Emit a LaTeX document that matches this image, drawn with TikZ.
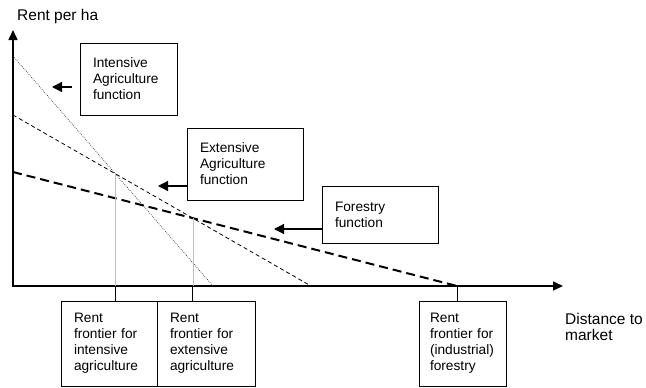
\documentclass[tikz,border=0pt]{standalone}
\usepackage{fontspec}
\setmainfont{Liberation Sans}
\usetikzlibrary{positioning,arrows.meta}

\begin{document}
\begin{tikzpicture}[x=1pt, y=-1pt,
    lbl/.style = {draw, line width=0.8pt, align=left, inner xsep=13pt, inner ysep=0pt, outer sep=0pt, font=\fontsize{13.7}{15.9}\selectfont},
    axlabel/.style = {anchor=west, inner sep=0pt, align=left, font=\fontsize{15.5}{16.5}\selectfont},
    pointer/.style = {line width=1.2pt, -{Triangle[length=10pt,width=10pt]}}]
	\useasboundingbox (0,0) rectangle (646,388);
	% axes and rent lines
	\coordinate (o) at (13,286);
	\coordinate (ytop) at (13,30);
	\coordinate (xend) at (563,286);
	\coordinate (i1) at (13,56);
	\coordinate (i2) at (213,286);
	\coordinate (e1) at (13,115);
	\coordinate (e2) at (311,286);
	\coordinate (f1) at (13,172);
	\coordinate (f2) at (457,286);
	\coordinate (ie) at (intersection of i1--i2 and e1--e2);
	\coordinate (ef) at (intersection of e1--e2 and f1--f2);
	\draw[line width=1.4pt, {Triangle[length=10pt,width=9pt]}-{Triangle[length=10pt,width=9pt]}] (ytop) -- (o) -- (xend);
	\draw[black!80, line width=0.7pt, dash pattern=on 0.7pt off 1.3pt] (i1) -- (i2);
	\draw[line width=0.8pt, dash pattern=on 4pt off 3pt] (e1) -- (e2);
	\draw[line width=2pt, dash pattern=on 9pt off 5pt] (f1) -- (f2);
	\draw[gray!50, line width=0.5pt] (ie) -- (ie |- o);
	\draw[gray!50, line width=0.5pt] (ef) -- (ef |- o);
	% function boxes
	\node[lbl, text width=71pt, minimum height=72pt] (intbox) at (128.5,79) {Intensive\\Agriculture\\function};
	\node[lbl, text width=90pt, minimum height=72pt] (extbox) at (245,164) {Extensive\\Agriculture\\function};
	\node[lbl, text width=90pt, minimum height=57pt] (forbox) at (380,214.5) {Forestry\\function};
	\coordinate (inttip) at (52,87);
	\coordinate (exttip) at (158,186);
	\coordinate (fortip) at (274,229);
	\draw[pointer, shorten <=8pt] (intbox.west |- inttip) -- (inttip);
	\draw[pointer] (extbox.west |- exttip) -- (exttip);
	\draw[pointer] (forbox.west |- fortip) -- (fortip);
	% frontier boxes
	\node[lbl, text width=70pt, minimum height=85pt, anchor=north west] (intfront) at (61,301) {Rent\\frontier for\\intensive\\agriculture};
	\node[lbl, text width=72pt, minimum height=85pt, right=0pt of intfront] (extfront) {Rent\\frontier for\\extensive\\agriculture};
	\node[lbl, text width=65pt, inner xsep=11pt, minimum height=85pt, anchor=north west] (forfront) at (419,301) {Rent\\frontier for\\(industrial)\\forestry};
	\draw[line width=0.8pt] (ie |- o) -- (ie |- intfront.north);
	\draw[line width=0.8pt] (ef |- o) -- (ef |- extfront.north);
	\draw[line width=0.8pt] (f2) -- (f2 |- forfront.north);
	% axis labels
	\node[axlabel] (ylabel) at (17,16) {Rent per ha};
	\node[axlabel] (xlabel) at (565,327) {Distance to\\market};
\end{tikzpicture}
\end{document}
